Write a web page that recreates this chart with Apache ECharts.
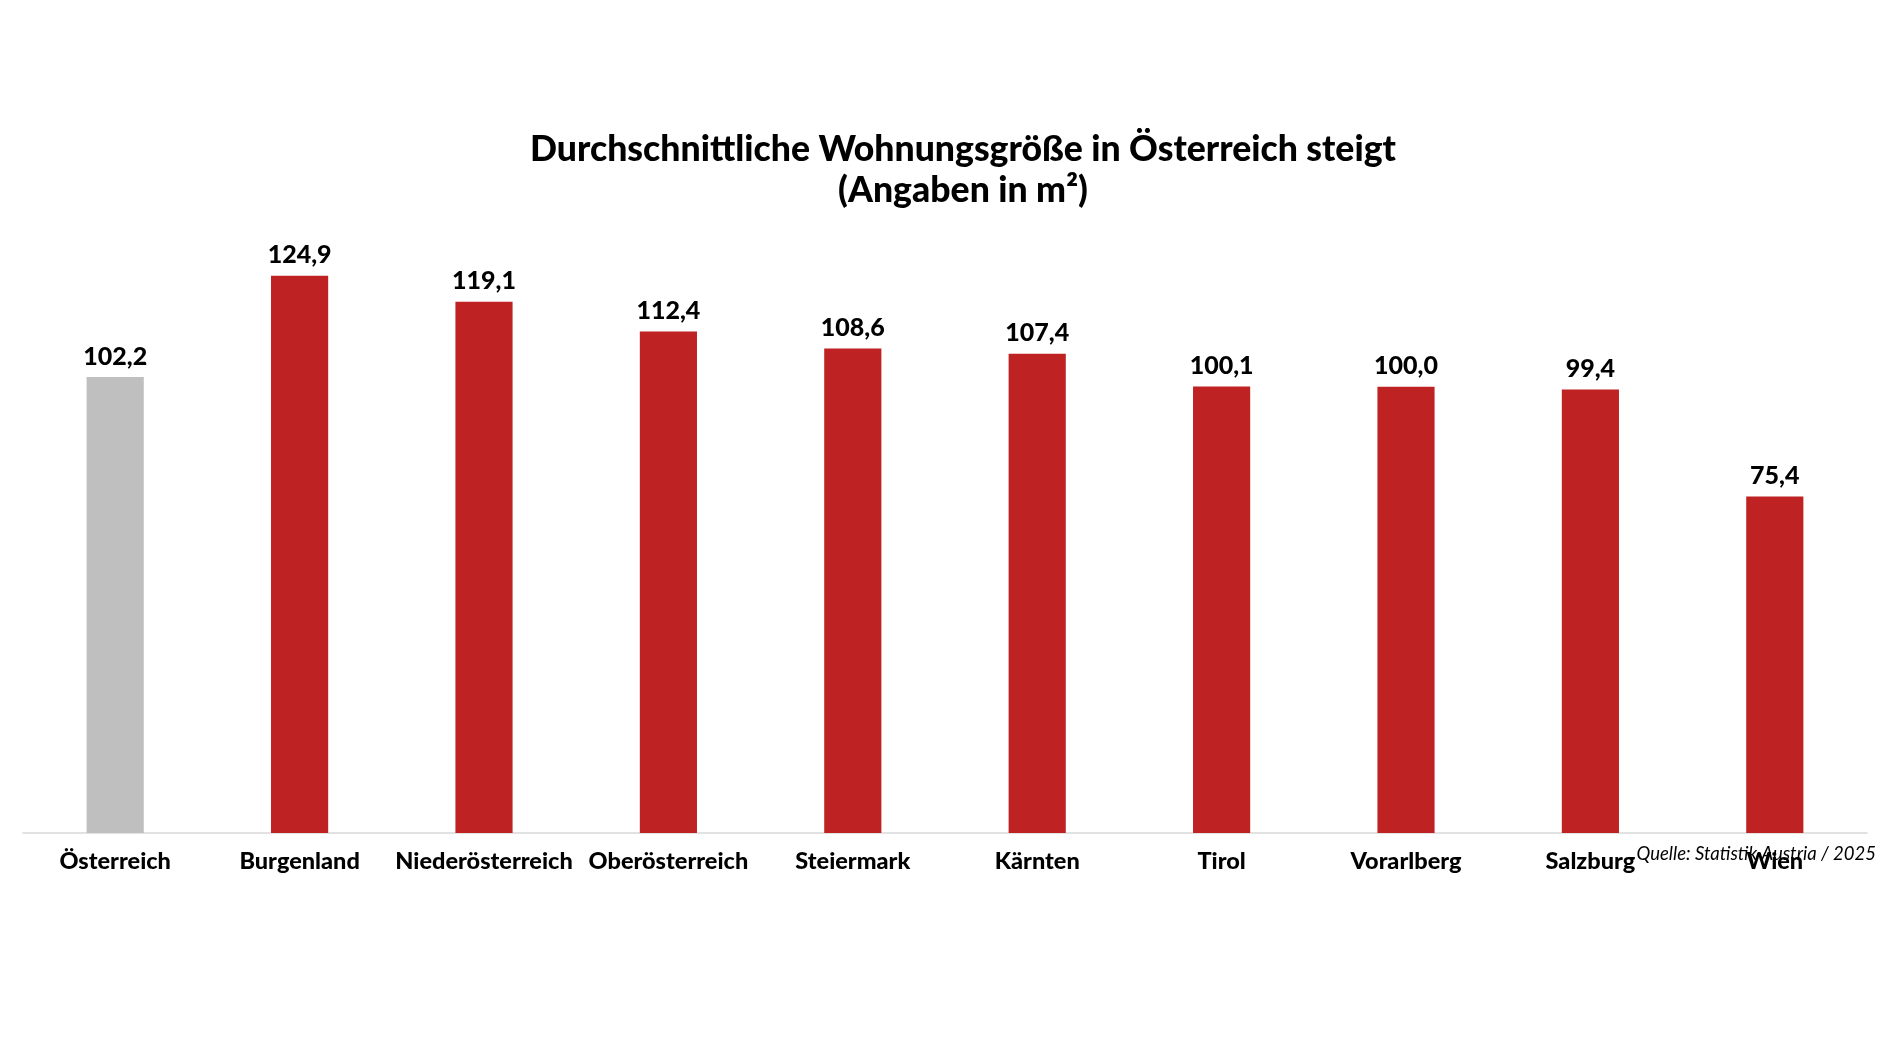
<!DOCTYPE html>
<html><head><meta charset="utf-8">
<script src="https://cdn.jsdelivr.net/npm/echarts@6/dist/echarts.min.js"></script>
<style>html,body{margin:0;padding:0;background:#fff}#c{width:1890px;height:1063px}</style>
</head><body><div id="c"></div>
<script>
const categories = ['Österreich','Burgenland','Niederösterreich','Oberösterreich','Steiermark','Kärnten','Tirol','Vorarlberg','Salzburg','Wien'];
const values = [102.2,124.9,119.1,112.4,108.6,107.4,100.1,100.0,99.4,75.4];
const highlight = ['Österreich'];
const titleText = 'Durchschnittliche Wohnungsgröße in Österreich steigt\n(Angaben in m²)';
const sourceText = 'Quelle: Statistik Austria / 2025';

const chart = echarts.init(document.getElementById('c'));
const FONT = 'Lato';
chart.setOption({
  backgroundColor:'#fff',
  animation:false,
  graphic:[
    {type:'text',x:963,y:129,style:{text:titleText,align:'center',verticalAlign:'top',font:'900 35.6px '+FONT,lineHeight:41,fill:'#000'}},
    {type:'text',right:14,top:845,style:{text:sourceText,font:'italic 18.5px '+FONT,fill:'#000'}}
  ],
  grid:{left:23,right:23,top:253,bottom:230},
  xAxis:{type:'category',data:categories,
    axisLine:{lineStyle:{color:'#D9D9D9',width:1.5}},axisTick:{show:false},
    axisLabel:{interval:0,margin:16,fontFamily:FONT,fontWeight:900,fontSize:23.5,color:'#000'}},
  yAxis:{type:'value',min:0,max:130,show:false,splitLine:{show:false}},
  series:[{type:'bar',barWidth:'31%',
    data:values.map((v,i)=>({value:v,itemStyle:{color:highlight.includes(categories[i])?'#BFBFBF':'#BE2222'}})),
    label:{show:true,position:'top',distance:8,fontFamily:FONT,fontWeight:900,fontSize:25,color:'#000',
      formatter:p=>p.value.toFixed(1).replace('.',',')}}]
});
</script></body></html>
